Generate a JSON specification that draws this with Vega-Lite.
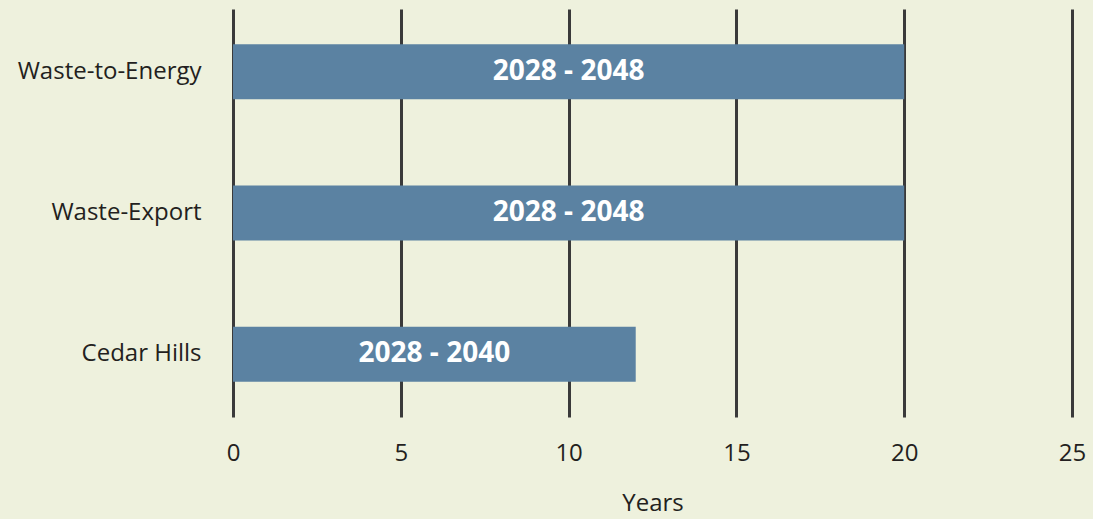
{
  "$schema": "https://vega.github.io/schema/vega-lite/v6.json",
  "autosize": {"type": "none"},
  "width": 839,
  "height": 408,
  "padding": {"left": 233, "top": 9, "right": 21, "bottom": 102},
  "background": "#eef1dd",
  "config": {
    "view": {"stroke": null},
    "font": "Open Sans"
  },
  "data": {
    "values": [
      {"option": "Waste-to-Energy", "years": 20, "label": "2028 - 2048"},
      {"option": "Waste-Export", "years": 20, "label": "2028 - 2048"},
      {"option": "Cedar Hills", "years": 12, "label": "2028 - 2040"}
    ]
  },
  "encoding": {
    "y": {
      "field": "option",
      "type": "nominal",
      "sort": ["Waste-to-Energy", "Waste-Export", "Cedar Hills"],
      "scale": {"paddingInner": 0.61, "paddingOuter": 0.25},
      "axis": {
        "title": null,
        "domain": false,
        "ticks": false,
        "labelPadding": 32,
        "labelLimit": 300,
        "labelFontSize": 24,
        "labelColor": "#231f20",
        "labelFont": "Open Sans"
      }
    }
  },
  "layer": [
    {
      "mark": {"type": "bar", "color": "#5b82a2"},
      "encoding": {
        "x": {
          "field": "years",
          "type": "quantitative",
          "scale": {"domain": [0, 25], "nice": false},
          "axis": {
            "title": "Years",
            "values": [0, 5, 10, 15, 20, 25],
            "domain": false,
            "ticks": false,
            "grid": true,
            "gridColor": "#3a3a3a",
            "gridWidth": 3,
            "gridOpacity": 1,
            "labelFlush": false,
            "labelPadding": 24,
            "labelFontSize": 24,
            "labelColor": "#231f20",
            "labelFont": "Open Sans",
            "titleFontSize": 24,
            "titleFontWeight": "normal",
            "titleColor": "#231f20",
            "titleFont": "Open Sans",
            "titlePadding": 26
          }
        }
      }
    },
    {
      "transform": [{"calculate": "datum.years / 2", "as": "mid"}],
      "mark": {"type": "text", "color": "white", "fontWeight": "bold", "fontSize": 28, "font": "Open Sans", "baseline": "middle", "align": "center"},
      "encoding": {
        "x": {"field": "mid", "type": "quantitative"},
        "text": {"field": "label"}
      }
    }
  ]
}
